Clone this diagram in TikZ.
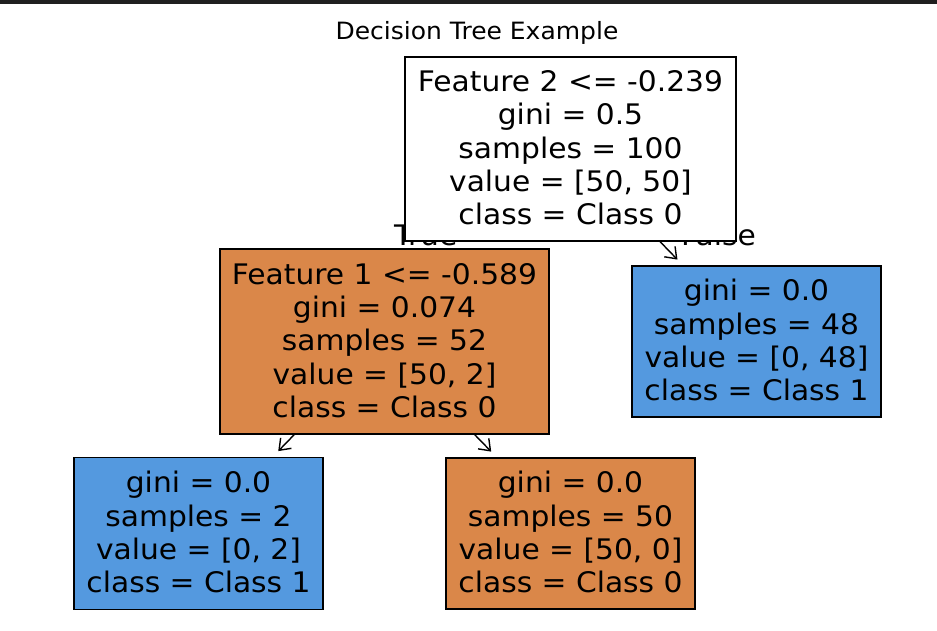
\documentclass[tikz,border=0pt]{standalone}
\usepackage{fontspec}
\setmainfont{DejaVu Sans}[FakeStretch=1.05]
\usetikzlibrary{arrows.meta}
\definecolor{TopBar}{HTML}{1F1F1F}
\definecolor{ClassZeroFill}{HTML}{DA8749}
\definecolor{ClassOneFill}{HTML}{5499DF}
\newcommand{\firstline}{\rule{0pt}{28.5pt}}

\begin{document}
\begin{tikzpicture}[x=1pt,y=-1pt, line join=miter,
  treebox/.style={draw=black, line width=1.3pt, inner sep=0pt, align=center,
    font=\fontsize{28.3}{33.3}\selectfont},
  treearrow/.style={-{Straight Barb[length=10pt,width=15pt]}, line width=1.4pt, shorten >=8pt},
  edgelabel/.style={anchor=base west, inner sep=0pt, font=\fontsize{28.3}{33.3}\selectfont}]

\useasboundingbox (0,0) rectangle (937,631);
\fill[white] (0,0) rectangle (937,631);
% top bar
\fill[TopBar] (0,0) rectangle (937,4);

% title
\node[anchor=base, inner sep=0pt, font=\fontsize{23.8}{28}\selectfont] (title) at (477,39.5) {Decision Tree Example};

% edge labels, the root box hides most of them
\node[edgelabel] (truelbl) at (394,245) {True};
\node[edgelabel] (falselbl) at (681,245) {False};

% root
\node[treebox, fill=white, minimum width=331pt, minimum height=184pt] (root) at (570.5,149)
{\firstline Feature 2 <= -0.239\\gini = 0.5\\samples = 100\\value = [50, 50]\\class = Class 0\strut};

% depth 1
\node[treebox, fill=ClassZeroFill, minimum width=329pt, minimum height=185pt] (split) at (384.5,341.5)
{\firstline Feature 1 <= -0.589\\gini = 0.074\\samples = 52\\value = [50, 2]\\class = Class 0\strut};
\node[treebox, fill=ClassOneFill, minimum width=249pt, minimum height=151pt] (leafright) at (756.5,341.5)
{\firstline gini = 0.0\\samples = 48\\value = [0, 48]\\class = Class 1\strut};

% depth 2
\node[treebox, fill=ClassOneFill, minimum width=249pt, minimum height=152pt] (leafa) at (198.5,533.5)
{\firstline gini = 0.0\\samples = 2\\value = [0, 2]\\class = Class 1\strut};
\node[treebox, fill=ClassZeroFill, minimum width=249pt, minimum height=151pt] (leafb) at (570.5,533.5)
{\firstline gini = 0.0\\samples = 50\\value = [50, 0]\\class = Class 0\strut};

% arrows
\draw[treearrow] (root) -- (leafright);
\draw[treearrow] (split) -- (leafa);
\draw[treearrow] (split) -- (leafb);

\end{tikzpicture}
\end{document}
